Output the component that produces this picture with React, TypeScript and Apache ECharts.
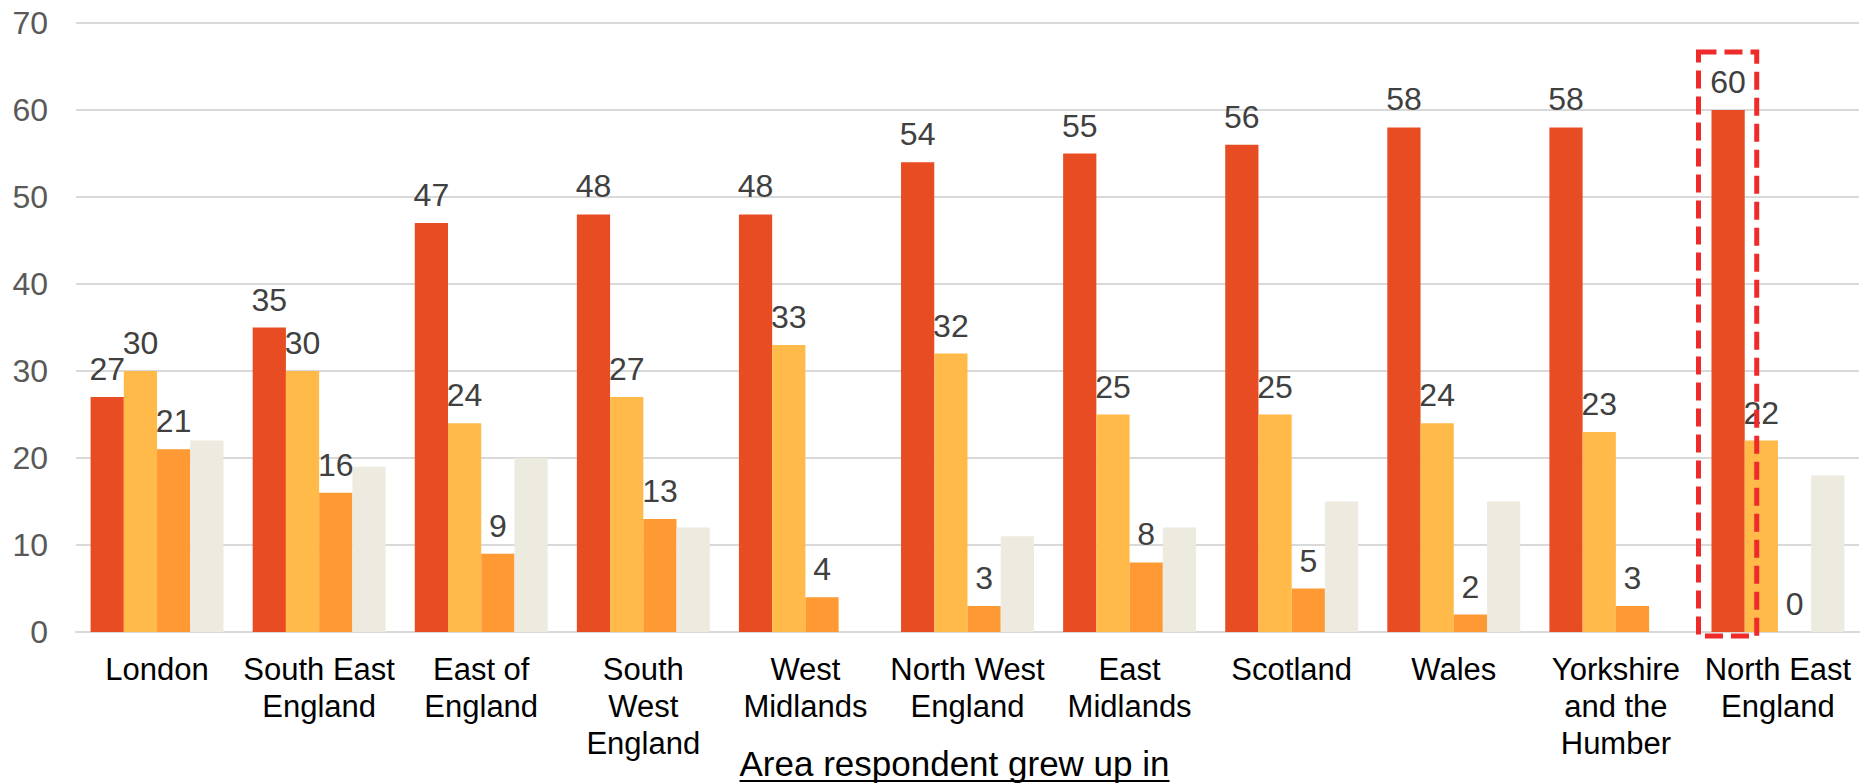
import React, { useEffect, useRef } from "react";
import * as echarts from "echarts";

const categories = [
  "London",
  "South East\nEngland",
  "East of\nEngland",
  "South\nWest\nEngland",
  "West\nMidlands",
  "North West\nEngland",
  "East\nMidlands",
  "Scotland",
  "Wales",
  "Yorkshire\nand the\nHumber",
  "North East\nEngland",
];

const seriesA = [27, 35, 47, 48, 48, 54, 55, 56, 58, 58, 60];
const seriesB = [30, 30, 24, 27, 33, 32, 25, 25, 24, 23, 22];
const seriesC = [21, 16, 9, 13, 4, 3, 8, 5, 2, 3, 0];
const seriesD = [22, 19, 20, 12, 0, 11, 12, 15, 15, 0, 18];

const yTicks = { min: 0, max: 70, interval: 10 };
const axisTitle = "Area respondent grew up in";
const highlightIndex = 10;

const FONT = "Arial, 'Liberation Sans', sans-serif";

export default function App() {
  const ref = useRef<HTMLDivElement>(null);

  useEffect(() => {
    document.body.style.margin = "0";
    const chart = echarts.init(ref.current!, null, { renderer: "svg" });

    const label = {
      show: true,
      position: "top" as const,
      distance: 12,
      color: "#404040",
      fontSize: 32,
      fontFamily: FONT,
    };

    chart.setOption({
      animation: false,
      grid: { left: 76, right: 7, top: 23, bottom: 152, containLabel: false },
      xAxis: {
        type: "category",
        data: categories,
        axisLine: { show: true, lineStyle: { color: "#D9D9D9", width: 2 } },
        axisTick: { show: false },
        axisLabel: {
          interval: 0,
          color: "#000000",
          fontSize: 31,
          lineHeight: 37,
          fontFamily: FONT,
          margin: 19,
        },
      },
      yAxis: {
        type: "value",
        min: yTicks.min,
        max: yTicks.max,
        interval: yTicks.interval,
        axisLine: { show: false },
        axisTick: { show: false },
        splitLine: { lineStyle: { color: "#D9D9D9", width: 2 } },
        axisLabel: { color: "#595959", fontSize: 32, fontFamily: FONT, margin: 28 },
      },
      series: [
        { name: "A", type: "bar", data: seriesA, itemStyle: { color: "#E84C22" }, label, barGap: "0%", barCategoryGap: "18%" },
        { name: "B", type: "bar", data: seriesB, itemStyle: { color: "#FFBA49" }, label },
        { name: "C", type: "bar", data: seriesC, itemStyle: { color: "#FF9933" }, label },
        { name: "D", type: "bar", data: seriesD, itemStyle: { color: "#EDEAE0" }, label: { show: false } },
      ],
    });

    // annotation: dashed box around the highlighted bar, and underlined axis title
    const c0 = chart.convertToPixel({ xAxisIndex: 0 }, 0) as number;
    const c1 = chart.convertToPixel({ xAxisIndex: 0 }, 1) as number;
    const band = c1 - c0;
    const cx = chart.convertToPixel({ xAxisIndex: 0 }, highlightIndex) as number;
    const barW = band * 0.82 / 4;
    const barLeft = cx - 2 * barW;
    const yTop = chart.convertToPixel({ yAxisIndex: 0 }, seriesA[highlightIndex]) as number;
    const yZero = chart.convertToPixel({ yAxisIndex: 0 }, 0) as number;

    const titleSize = 35;
    const ctx = document.createElement("canvas").getContext("2d")!;
    ctx.font = `${titleSize}px ${FONT}`;
    const tw = ctx.measureText(axisTitle).width;
    const gridL = 76;
    const gridR = 1866 - 7;
    const tcx = (gridL + gridR) / 2 - 13;

    chart.setOption({
      graphic: [
        {
          type: "rect",
          shape: { x: barLeft - 13, y: yTop - 58, width: barW + 25, height: yZero - yTop + 62 },
          style: { fill: "none", stroke: "#EE2A2A", lineWidth: 5, lineDash: [18, 8] },
          z: 100,
        },
        {
          type: "text",
          x: tcx,
          y: 763,
          style: {
            text: axisTitle,
            fontSize: titleSize,
            fontFamily: FONT,
            fill: "#000000",
            align: "center",
            verticalAlign: "middle",
          },
        },
        {
          type: "line",
          shape: { x1: tcx - tw / 2, y1: 781, x2: tcx + tw / 2, y2: 781 },
          style: { stroke: "#000000", lineWidth: 2 },
        },
      ],
    });

    return () => chart.dispose();
  }, []);

  return <div ref={ref} style={{ width: 1866, height: 784 }} />;
}
